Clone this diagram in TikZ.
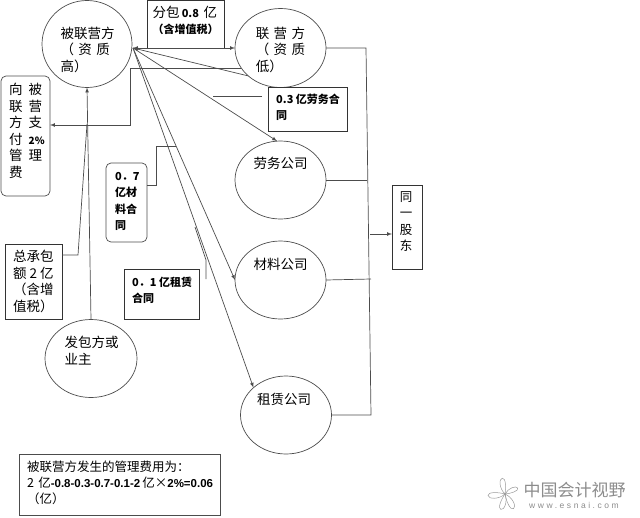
\documentclass[tikz,border=0pt]{standalone}
\usepackage{fontspec}
\usetikzlibrary{shapes.geometric}
\setmainfont{Noto Sans CJK SC}
\newfontfamily\arialfont{Liberation Sans}
\newfontfamily\webfont[LetterSpace=30]{Liberation Sans}
\definecolor{linegray}{gray}{0.3}
\tikzset{
    firm/.style={draw=linegray, shape=ellipse, line width=0.7pt, inner sep=0pt, outer sep=0pt},
    plainbox/.style={draw=black!80, line width=0.7pt, inner sep=0pt, outer sep=0pt},
    softbox/.style={plainbox, rounded corners=5pt, draw=linegray},
    bigtext/.style={align=left, inner sep=0pt, font=\fontsize{13.5}{16.5}\selectfont},
    smalltext/.style={align=left, inner sep=0pt, font=\fontsize{11}{16.5}\selectfont\bfseries},
    link/.style={draw=linegray, line width=0.7pt},
    linkto/.style={link, -latex},
}
\begin{document}
\begin{tikzpicture}[x=1pt, y=-1pt]
    \useasboundingbox (0, 0) rectangle (640, 517);
    % companies
    \node[firm, minimum width=90pt, minimum height=87pt] (bei) at (87, 44) {};
    \node[firm, minimum width=91pt, minimum height=79pt] (lian) at (280.5, 48) {};
    \node[firm, minimum width=91pt, minimum height=78pt] (laowu) at (280.5, 180) {};
    \node[firm, minimum width=91pt, minimum height=78pt] (cailiao) at (280.5, 280) {};
    \node[firm, minimum width=91pt, minimum height=78pt] (zulin) at (286, 415) {};
    \node[firm, minimum width=92pt, minimum height=78pt] (fabao) at (91, 358.5) {};
    \node[bigtext] (beitext) at (87.5, 49.5) {被联营方\\（\,\,资\,\,质\\高）};
    \node[bigtext] (liantext) at (280.5, 49.5) {联\,\,营\,\,方\\（\,\,资\,\,质\\低）};
    \node[bigtext] (laowutext) at (280.5, 163) {劳务公司};
    \node[bigtext] (cailiaotext) at (280.5, 264) {材料公司};
    \node[bigtext] (zulintext) at (284, 399) {租赁公司};
    \node[bigtext] (fabaotext) at (91.5, 350.5) {发包方或\\业主};
    % boxes
    \node[plainbox, minimum width=77pt, minimum height=48pt] (fenbao) at (185.5, 24) {};
    \node[plainbox, minimum width=79pt, minimum height=44pt] (labor) at (307.5, 109) {};
    \node[softbox, minimum width=49pt, minimum height=120pt] (pay) at (25.5, 136) {};
    \node[softbox, minimum width=41pt, minimum height=79pt] (material) at (126.5, 202.5) {};
    \node[plainbox, minimum width=57pt, minimum height=75pt] (total) at (33.5, 281.5) {};
    \node[plainbox, minimum width=75pt, minimum height=50pt] (rent) at (161.5, 294) {};
    \node[plainbox, minimum width=30pt, minimum height=84pt] (holder) at (407, 227) {};
    \node[plainbox, minimum width=201pt, minimum height=61pt, draw=linegray] (note) at (119.5, 484.5) {};
    \node[bigtext] (fenbaotext) at (185.5, 20.5) {分包\,{\fontsize{11}{16.5}\selectfont\bfseries 0.8}\,\,亿\\[-1pt]{\fontsize{11}{16.5}\selectfont\bfseries（含增值税）}};
    \node[smalltext, anchor=west] (labortext) at (276, 107.5) {0.3 亿劳务合\\同};
    \node[bigtext, anchor=west] (paytext) at (9, 131) {向\hspace{6pt}被\\联\hspace{6pt}营\\方\hspace{6pt}支\\付\hspace{6pt}{\fontsize{10}{16.5}\selectfont\bfseries 2\%}\\管\hspace{6pt}理\\费};
    \node[smalltext, anchor=west] (materialtext) at (115, 201.5) {0．7\\亿材\\料合\\同};
    \node[bigtext, anchor=west] (totaltext) at (13, 281.5) {总承包\\额 2 亿\\（含增\\值税）};
    \node[smalltext, anchor=west] (renttext) at (132, 290.5) {0．1 亿租赁\\合同};
    \node[bigtext, align=center, font=\fontsize{12.5}{16.5}\selectfont] (holdertext) at (406, 221.5) {同\\一\\股\\东};
    \node[bigtext, anchor=west, font=\fontsize{12.5}{16.3}\selectfont] (notetext) at (27, 483) {被联营方发生的管理费用为：\\2\,\,亿{\arialfont\bfseries\fontsize{11.5}{16.3}\selectfont -0.8-0.3-0.7-0.1-2}\,亿×{\arialfont\bfseries\fontsize{11.5}{16.3}\selectfont 2\%=0.06}\\ （亿）};
    % links around the first company
    \coordinate (hub) at (133, 48);
    \coordinate (paybend) at (130, 125);
    \draw[link, latex-latex] (hub) -- (lian.west);
    \draw[linkto] (lian.221) -- (hub);
    \draw[linkto] (lian.207) -| (paybend) -- (pay.east |- paybend);
    \draw[linkto] (hub) -- (laowu.95);
    \draw[linkto] (hub) -- (cailiao.west);
    \draw[linkto] (hub) -- (zulin.140);
    \draw[linkto] (fabao.north) -- (bei.south);
    % leaders of the contract boxes
    \coordinate (laborend) at (213, 96);
    \coordinate (laborstart) at (262, 96);
    \coordinate (materialbend) at (156, 185);
    \coordinate (materialend) at (176, 146);
    \coordinate (rentstart) at (206, 279);
    \coordinate (rentbend) at (206, 260);
    \coordinate (rentend) at (195, 227);
    \coordinate (totalbend) at (78, 255);
    \coordinate (totalend) at (87, 124);
    \draw[link] (laborstart) -- (laborend);
    \draw[link] (material.east |- materialbend) -- (materialbend) -- (materialbend |- materialend) -- (materialend);
    \draw[link] (rentstart) -- (rentbend) -- (rentend);
    \draw[link] (total.east |- totalbend) -- (totalbend) -- (totalend);
    % shareholder bus
    \coordinate (bustop) at (366, 48);
    \coordinate (busbottom) at (371, 415);
    \coordinate (busarrow) at (370, 234);
    \draw[link] (lian.east) -- (bustop) -- (busbottom) -- (zulin.east);
    \draw[link] (laowu.east) -- (367, 180);
    \draw[link] (cailiao.east) -- (371, 279);
    \draw[linkto] (busarrow) -- (holder.west |- busarrow);
    % watermark
    \foreach \ang/\len in {100/16, 185/17, 25/14, 255/16, 300/17} {
        \draw[gray!80, line width=0.5pt, rotate around={\ang:(505, 494)}] (505, 494)
        .. controls (505 + 0.4*\len, 494 - 0.3*\len) and (505 + \len, 494 - 0.22*\len) .. (505 + \len, 494)
        .. controls (505 + \len, 494 + 0.22*\len) and (505 + 0.4*\len, 494 + 0.15*\len) .. (505, 494);
    }
    \node[inner sep=0pt, text=gray!90, font=\fontsize{17}{17}\selectfont] (brand) at (574.5, 490) {中国会计视野};
    \node[inner sep=0pt, text=gray!90, font=\webfont\fontsize{8.5}{9}\selectfont] (site) at (574, 505) {www.esnai.com};
\end{tikzpicture}
\end{document}
